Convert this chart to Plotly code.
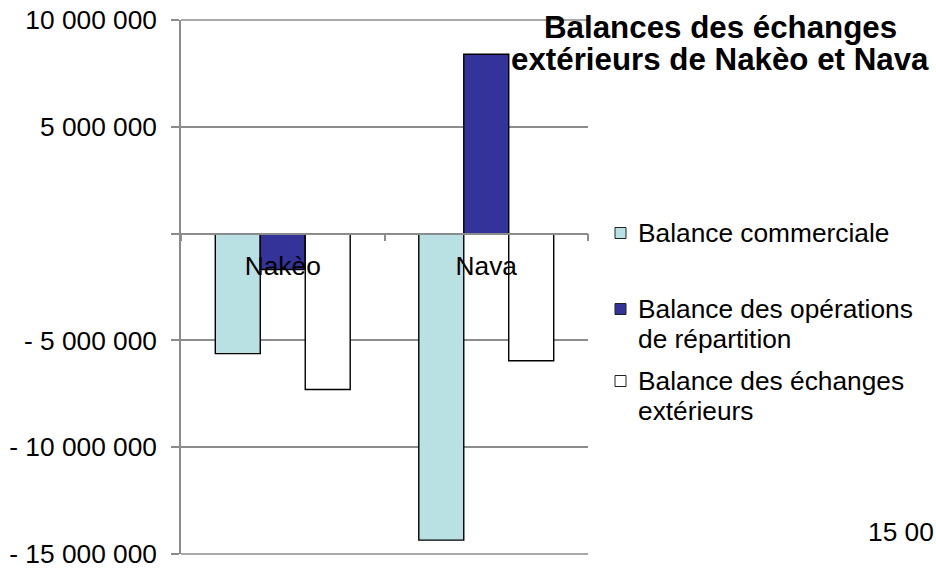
import plotly.graph_objects as go

# Data
countries = ["Nakèo", "Nava"]
series_names = [
    "Balance commerciale",
    "Balance des opérations de répartition",
    "Balance des échanges extérieurs",
]
legend_lines = [
    ["Balance commerciale"],
    ["Balance des opérations", "de répartition"],
    ["Balance des échanges", "extérieurs"],
]
title_lines = ["Balances des échanges", "extérieurs de Nakèo et Nava"]
balance_commerciale = [-5620000, -14350000]
balance_repartition = [-1680000, 8400000]
balance_exterieure = [-7300000, -5950000]
series_values = [balance_commerciale, balance_repartition, balance_exterieure]
series_colors = ["#B9E0E3", "#333399", "#FFFFFF"]

y_tickvals = [-15000000, -10000000, -5000000, 0, 5000000, 10000000]
y_ticktext = ["- 15 000 000", "- 10 000 000", "- 5 000 000", "", "5 000 000", "10 000 000"]
y_range = [min(y_tickvals), max(y_tickvals)]

FONT = "Liberation Sans, Arial, sans-serif"
GRID = "#8C8C8C"
FS = 26.3

W, H = 936, 569
L, R, T, B = 181, 348, 20, 15
PW, PH = W - L - R, H - T - B


def px_x(px):
    return (px - L) / PW


def px_y(py):
    return (H - B - py) / PH


fig = go.Figure()
for name, vals, col in zip(series_names, series_values, series_colors):
    fig.add_trace(go.Bar(
        x=countries, y=vals, name=name,
        marker=dict(color=col, line=dict(color="#000000", width=1.4)),
        showlegend=False,
    ))

# Gridlines at both ends of the value range (plotly omits edge gridlines)
for yv in y_range:
    yp = (yv - y_range[0]) / (y_range[1] - y_range[0])
    fig.add_shape(
        type="line", xref="paper", yref="paper", x0=0, x1=1, y0=yp, y1=yp,
        line=dict(color=GRID, width=1.5), layer="below",
    )

# Legend drawn as squares + text lines
sym_y = [233, 309, 381]
line_gap = 30
for i, (lines, col) in enumerate(zip(legend_lines, series_colors)):
    cy = sym_y[i]
    fig.add_shape(
        type="rect", xref="paper", yref="paper",
        x0=px_x(615), x1=px_x(626), y0=px_y(cy + 5.5), y1=px_y(cy - 5.5),
        fillcolor=col, line=dict(color="#222222", width=1),
    )
    for j, txt in enumerate(lines):
        fig.add_annotation(
            x=px_x(636), y=px_y(cy + j * line_gap), xref="paper", yref="paper",
            text=txt, showarrow=False, xanchor="left", yanchor="middle",
            font=dict(family=FONT, size=FS, color="#000000"),
        )

# Title, one annotation per line
title_y = [27, 60]
for txt, ty in zip(title_lines, title_y):
    fig.add_annotation(
        x=px_x(720), y=px_y(ty), xref="paper", yref="paper",
        text="<b>" + txt + "</b>",
        showarrow=False, xanchor="center", yanchor="middle",
        font=dict(family=FONT, size=31.3, color="#000000"),
    )

# Stray axis label at the lower right edge
fig.add_annotation(
    x=px_x(936), y=px_y(532), xref="paper", yref="paper",
    text="15 00", showarrow=False, xanchor="right", yanchor="middle",
    font=dict(family=FONT, size=FS, color="#000000"),
)

fig.update_layout(
    width=W, height=H,
    margin=dict(l=L, r=R, t=T, b=B, autoexpand=False),
    paper_bgcolor="#FFFFFF", plot_bgcolor="#FFFFFF",
    barmode="group", bargap=0.337, bargroupgap=0,
    font=dict(family=FONT, size=FS, color="#000000"),
    xaxis=dict(
        type="category", range=[-0.5, 1.5],
        anchor="free", position=0.6,
        showline=True, linecolor=GRID, linewidth=1.5,
        ticks="outside", tickson="boundaries", ticklen=7, tickcolor=GRID, tickwidth=1.5,
        showgrid=False, zeroline=False,
        tickfont=dict(family=FONT, size=FS, color="#000000"),
        ticklabelstandoff=9,
    ),
    yaxis=dict(
        range=y_range,
        tickvals=y_tickvals, ticktext=y_ticktext,
        showline=True, linecolor=GRID, linewidth=1.5,
        ticks="outside", ticklen=8, tickcolor=GRID, tickwidth=1.5,
        showgrid=True, gridcolor=GRID, gridwidth=1.5,
        zeroline=False,
        tickfont=dict(family=FONT, size=FS, color="#000000"),
        ticklabelstandoff=9,
        ticklabeloverflow="allow",
    ),
)

fig.write_html("out.html")
